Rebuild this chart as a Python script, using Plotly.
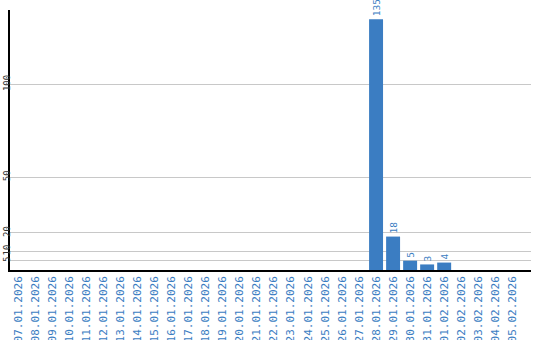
import plotly.graph_objects as go

dates = ["07.01.2026", "08.01.2026", "09.01.2026", "10.01.2026", "11.01.2026",
         "12.01.2026", "13.01.2026", "14.01.2026", "15.01.2026", "16.01.2026",
         "17.01.2026", "18.01.2026", "19.01.2026", "20.01.2026", "21.01.2026",
         "22.01.2026", "23.01.2026", "24.01.2026", "25.01.2026", "26.01.2026",
         "27.01.2026", "28.01.2026", "29.01.2026", "30.01.2026", "31.01.2026",
         "01.02.2026", "02.02.2026", "03.02.2026", "04.02.2026", "05.02.2026"]
values = [0, 0, 0, 0, 0, 0, 0, 0, 0, 0,
          0, 0, 0, 0, 0, 0, 0, 0, 0, 0,
          0, 135, 18, 5, 3, 4, 0, 0, 0, 0]
y_ticks = [5, 10, 20, 50, 100]

BLUE = "#3b7dc2"
labels = [str(v) if v else "" for v in values]

fig = go.Figure(go.Bar(
    x=dates, y=values, text=labels,
    textposition="outside", textangle=-90,
    textfont=dict(family="DejaVu Sans Mono", size=9.5, color=BLUE),
    marker=dict(color=BLUE, line=dict(width=0)),
    cliponaxis=False, constraintext="none",
))

fig.update_layout(
    width=540, height=340,
    margin=dict(l=10, r=9, t=10, b=70),
    paper_bgcolor="white", plot_bgcolor="white",
    bargap=0.18, showlegend=False,
)
fig.update_xaxes(
    type="category", range=[-0.5, 30.1],
    tickangle=-90, tickfont=dict(family="DejaVu Sans Mono", size=11, color=BLUE),
    showline=True, linecolor="black", linewidth=1.5,
    showgrid=False, ticks="", automargin=False,
)
fig.update_yaxes(
    range=[0, 140], tickvals=y_ticks, ticktext=[str(t) for t in y_ticks],
    tickangle=-90, tickfont=dict(family="DejaVu Sans Mono", size=9, color="#333333"),
    ticklabelstandoff=-5,
    showline=True, linecolor="black", linewidth=1.5,
    showgrid=True, gridcolor="#c8c8c8", gridwidth=1,
    zeroline=False, ticks="", automargin=False,
)

fig.write_html("out.html")
